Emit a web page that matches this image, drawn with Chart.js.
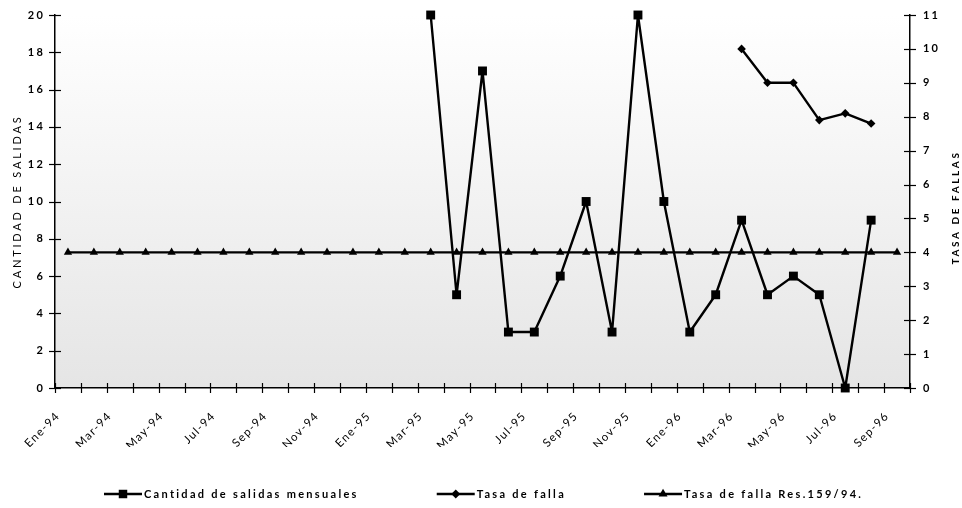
<!DOCTYPE html>
<html><head><meta charset="utf-8">
<script src="https://cdn.jsdelivr.net/npm/chart.js@4.4.0/dist/chart.umd.min.js"></script>
<style>html,body{margin:0;padding:0;background:#fff;}#wrap{width:962px;height:508px;position:relative;}</style>
</head><body><div id="wrap"><canvas id="c"></canvas></div>
<script>
const categories = ['Ene-94','Feb-94','Mar-94','Abr-94','May-94','Jun-94','Jul-94','Ago-94','Sep-94','Oct-94','Nov-94','Dic-94',
  'Ene-95','Feb-95','Mar-95','Abr-95','May-95','Jun-95','Jul-95','Ago-95','Sep-95','Oct-95','Nov-95','Dic-95',
  'Ene-96','Feb-96','Mar-96','Abr-96','May-96','Jun-96','Jul-96','Ago-96','Sep-96'];
const salidasMensuales = [null,null,null,null,null,null,null,null,null,null,null,null,null,null,
  20,5,17,3,3,6,10,3,20,10,3,5,9,5,6,5,0,9,null];
const tasaFalla = [null,null,null,null,null,null,null,null,null,null,null,null,null,null,null,null,null,null,null,null,null,null,null,null,null,null,
  10,9,9,7.9,8.1,7.8,null];
const tasaFallaRes = [4,4,4,4,4,4,4,4,4,4,4,4,4,4,4,4,4,4,4,4,4,4,4,4,4,4,4,4,4,4,4,4,4];
const leftTicks = [0,2,4,6,8,10,12,14,16,18,20];
const rightTicks = [0,1,2,3,4,5,6,7,8,9,10,11];
const seriesNames = ['Cantidad de salidas mensuales','Tasa de falla','Tasa de falla Res.159/94.'];
const leftTitle = 'CANTIDAD DE SALIDAS';
const rightTitle = 'TASA DE FALLAS';

const FONT = 'Lato, "Open Sans", sans-serif';
const tickSpacing = {x:'1.3px', yL:'2.2px', yR:'2.2px'};
const titleSpacing = {yL:'2.8px'};

const bgPlugin = {
  id:'bg',
  beforeDraw(chart){
    const {ctx, chartArea:a} = chart;
    Object.values(chart.scales).forEach(s=>{
      if (s._lsWrapped) return;
      s._lsWrapped = true;
      const oL = s.drawLabels.bind(s), oT = s.drawTitle.bind(s);
      s.drawLabels = function(ca){ const p = ctx.letterSpacing; ctx.letterSpacing = tickSpacing[s.id] || '0px'; oL(ca); ctx.letterSpacing = p; };
      s.drawTitle = function(ca){ const p = ctx.letterSpacing; ctx.letterSpacing = titleSpacing[s.id] || '0px'; oT(ca); ctx.letterSpacing = p; };
    });
    const g = ctx.createLinearGradient(0,a.top,0,a.bottom);
    g.addColorStop(0,'#ffffff'); g.addColorStop(1,'#e5e5e5');
    ctx.save(); ctx.fillStyle = g; ctx.fillRect(a.left,a.top,a.right-a.left,a.bottom-a.top); ctx.restore();
  }
};
const crossTicks = {
  id:'crossTicks',
  afterDraw(chart){
    const {ctx, scales:{x, yL, yR}, chartArea:a} = chart;
    ctx.save(); ctx.strokeStyle = '#000'; ctx.lineWidth = 1.2;
    const ln = (p,q,r,s)=>{ctx.beginPath();ctx.moveTo(p,q);ctx.lineTo(r,s);ctx.stroke();};
    for (let i=0;i<=categories.length;i++){ const px = Math.round(x.getPixelForValue(i-0.5))+0.5; ln(px, x.top-5, px, x.top+5); }
    yL.ticks.forEach(t=>{ const py = Math.round(yL.getPixelForValue(t.value))+0.5; ln(yL.right-6, py, yL.right+6, py); });
    yR.ticks.forEach(t=>{ const py = Math.round(yR.getPixelForValue(t.value))+0.5; ln(yR.left-6, py, yR.left+6, py); });
    // right axis title, reading bottom-to-top
    ctx.save();
    ctx.fillStyle = '#000'; ctx.font = 'bold 10px ' + FONT; ctx.letterSpacing = '2.6px';
    ctx.textAlign = 'center'; ctx.textBaseline = 'middle';
    ctx.translate(yR.right - 6, (a.top + a.bottom)/2 + 6);
    ctx.rotate(-Math.PI/2);
    ctx.fillText(rightTitle, 0, 0);
    ctx.restore();
    // legend
    const styles = ['rect','rectRot','triangle'], radii = [6,4.5,5.2];
    ctx.font = 'bold 11px ' + FONT; ctx.letterSpacing = '2.3px';
    ctx.textAlign = 'left'; ctx.textBaseline = 'middle'; ctx.fillStyle = '#000';
    let lx = 104; const ly = 494;
    chart.data.datasets.forEach((d,i)=>{
      ctx.lineWidth = 2.6; ln(lx, ly, lx+38, ly);
      ctx.fillStyle = '#000';
      Chart.helpers.drawPoint(ctx, {pointStyle: styles[i], radius: radii[i], rotation: 0, borderWidth: 0}, lx+19, ly);
      ctx.fillText(d.label, lx+40, ly+0.5);
      lx += 40 + ctx.measureText(d.label).width + 78;
    });
    ctx.restore();
  }
};

const ticksFont = {family: FONT, size: 11, weight: 'bold'};
const common = {borderColor:'#000', backgroundColor:'#000', borderWidth:2.4, borderJoinStyle:'round', pointBorderWidth:0, tension:0, clip:false};
new Chart(document.getElementById('c'), {
  type:'line',
  data:{
    labels: categories,
    datasets:[
      Object.assign({label: seriesNames[0], data: salidasMensuales, yAxisID:'yL', pointStyle:'rect', pointRadius:6.3}, common),
      Object.assign({label: seriesNames[1], data: tasaFalla, yAxisID:'yR', pointStyle:'rectRot', pointRadius:4.3}, common),
      Object.assign({label: seriesNames[2], data: tasaFallaRes, yAxisID:'yR', pointStyle:'triangle', pointRadius:4.8}, common)
    ]
  },
  options:{
    responsive:true, maintainAspectRatio:false, animation:false,
    layout:{padding:{top:15,left:0,right:0,bottom:61}},
    plugins:{ tooltip:{enabled:false}, legend:{display:false} },
    scales:{
      x:{
        type:'category', offset:true,
        grid:{display:false, drawTicks:false, offset:true},
        border:{display:true, color:'#000', width:1.5},
        ticks:{autoSkip:false, maxRotation:45, minRotation:45, padding:21, labelOffset:-10, color:'#000',
          font:{family: FONT, size: 11.5},
          callback(v, i){ return i % 2 === 0 ? categories[i] : ''; }},
        afterFit(s){ s.height = 59; s.paddingLeft = 0; s.paddingRight = 0; }
      },
      yL:{
        position:'left', min:0, max:20,
        afterBuildTicks(s){ s.ticks = leftTicks.map(v=>({value:v})); },
        grid:{display:false, drawTicks:false},
        border:{display:true, color:'#000', width:1.5},
        ticks:{padding:10, color:'#000', font: ticksFont},
        title:{display:true, text: leftTitle, color:'#000', font:{family: FONT, size: 11}, padding:{top:11,bottom:0}},
        afterFit(s){ s.width = 55; s.paddingTop = 0; s.paddingBottom = 0; }
      },
      yR:{
        position:'right', min:0, max:11,
        afterBuildTicks(s){ s.ticks = rightTicks.map(v=>({value:v})); },
        grid:{display:false, drawTicks:false},
        border:{display:true, color:'#000', width:1.5},
        ticks:{padding:13, color:'#000', font: ticksFont},
        title:{display:false, text: rightTitle},
        afterFit(s){ s.width = 52; s.paddingTop = 0; s.paddingBottom = 0; }
      }
    }
  },
  plugins:[bgPlugin, crossTicks]
});
</script></body></html>
